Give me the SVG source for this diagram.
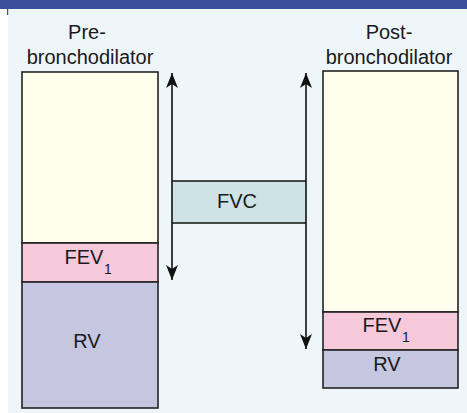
<svg xmlns="http://www.w3.org/2000/svg" width="467" height="413" viewBox="0 0 467 413">
<defs>
<style>
text{font-family:"Liberation Sans",Arial,sans-serif;fill:#1a1a1a;text-anchor:middle}
.lbl{font-size:20px}
.sub{font-size:14px;text-anchor:start}
.box{stroke:#222;stroke-width:1.6}
.arr{stroke:#111;stroke-width:1.6;fill:none}
</style>
<marker id="ah" viewBox="-15 -7 16 14" refX="0" refY="0" markerWidth="16" markerHeight="14" markerUnits="userSpaceOnUse" orient="auto-start-reverse">
<path d="M0,0 L-15,-6 L-11,0 L-15,6 Z" fill="#111"/>
</marker>
</defs>
<rect x="0" y="0" width="467" height="413" fill="#ffffff"/>
<rect x="8" y="9" width="459" height="404" fill="#eef6fa"/>
<rect x="0" y="0" width="467" height="9" fill="#3a4f9b"/>
<rect x="7" y="9" width="1.2" height="6" fill="#3a4f9b"/>

<g id="pre-label">
<text class="lbl" x="87" y="39">Pre-</text>
<text class="lbl" x="90" y="64">bronchodilator</text>
</g>
<g id="post-label">
<text class="lbl" x="389" y="39">Post-</text>
<text class="lbl" x="389" y="64">bronchodilator</text>
</g>

<g id="pre-column">
<rect class="box" x="22" y="72" width="136" height="171" fill="#fffdec"/>
<rect class="box" x="22" y="243" width="136" height="39" fill="#f5c8da"/>
<rect class="box" x="22" y="282" width="136" height="126" fill="#c5c6e0"/>
<text class="lbl" x="84" y="264">FEV</text><text class="sub" x="104" y="274">1</text>
<text class="lbl" x="87" y="348">RV</text>
</g>

<g id="post-column">
<rect class="box" x="323" y="71" width="135" height="241" fill="#fffdec"/>
<rect class="box" x="323" y="312" width="135" height="38" fill="#f5c8da"/>
<rect class="box" x="323" y="350" width="135" height="38" fill="#c5c6e0"/>
<text class="lbl" x="382" y="332">FEV</text><text class="sub" x="402" y="342">1</text>
<text class="lbl" x="387" y="371">RV</text>
</g>

<g id="fvc">
<rect x="172" y="181" width="134" height="42" fill="#cde3e6"/>
<line class="arr" x1="172" y1="181" x2="306" y2="181"/>
<line class="arr" x1="172" y1="223" x2="306" y2="223"/>
<text class="lbl" x="237" y="208">FVC</text>
</g>

<g id="connectors">
<line class="arr" x1="172" y1="73" x2="172" y2="280" marker-start="url(#ah)" marker-end="url(#ah)"/>
<line class="arr" x1="306" y1="73" x2="306" y2="349" marker-start="url(#ah)" marker-end="url(#ah)"/>
</g>
</svg>
